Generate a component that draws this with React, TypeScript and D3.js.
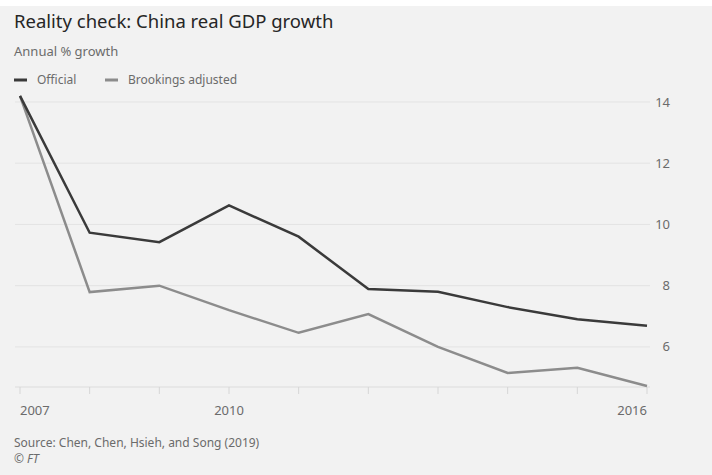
import React from "react";
import * as d3 from "d3";

const years = [2007, 2008, 2009, 2010, 2011, 2012, 2013, 2014, 2015, 2016];
const official = [14.2, 9.73, 9.42, 10.62, 9.6, 7.89, 7.8, 7.3, 6.9, 6.69];
const brookings = [14.2, 7.79, 8.0, 7.2, 6.46, 7.07, 6.0, 5.15, 5.32, 4.72];
const yTicks = [6, 8, 10, 12, 14];
const xLabels = [2007, 2010, 2016];

const W = 712;
const H = 475;
const FONT = "'Noto Sans', 'Open Sans', sans-serif";

export default function App() {
  const x = d3.scaleLinear().domain([2007, 2016]).range([20, 647]);
  const y = d3.scaleLinear().domain([4.69, 14]).range([387, 102]);
  const line = d3
    .line<number>()
    .x((_, i) => x(years[i]))
    .y((d) => y(d));

  const gridX0 = 15;
  const gridX1 = 650;

  return (
    <svg
      width={W}
      height={H}
      style={{ position: "absolute", left: 0, top: 0, display: "block" }}
      fontFamily={FONT}
    >
      <rect x={0} y={0} width={W} height={H} fill="#f2f2f2" />
      <rect x={0} y={0} width={W} height={6} fill="#ffffff" />

      <text x={14} y={28} fontSize={18.5} fill="#262626">
        Reality check: China real GDP growth
      </text>
      <text x={14} y={56} fontSize={13} fill="#6b6b6b">
        Annual % growth
      </text>

      {/* legend */}
      <line x1={14} x2={27} y1={80} y2={80} stroke="#3a3a3a" strokeWidth={3} />
      <text x={37} y={84} fontSize={12} fill="#6b6b6b">
        Official
      </text>
      <line x1={105} x2={118} y1={80} y2={80} stroke="#8c8c8c" strokeWidth={3} />
      <text x={128} y={84} fontSize={12} fill="#6b6b6b">
        Brookings adjusted
      </text>

      {/* grid */}
      {yTicks.map((t) => (
        <g key={t}>
          <line x1={gridX0} x2={gridX1} y1={y(t)} y2={y(t)} stroke="#e3e3e3" strokeWidth={1} />
          <text x={670} y={y(t) + 4.5} fontSize={13} fill="#6b6b6b" textAnchor="end">
            {t}
          </text>
        </g>
      ))}

      {/* x axis */}
      <line x1={gridX0} x2={gridX1} y1={y(4.69)} y2={y(4.69)} stroke="#dcdcdc" strokeWidth={1} />
      {years.map((yr) => (
        <line
          key={yr}
          x1={x(yr)}
          x2={x(yr)}
          y1={y(4.69)}
          y2={y(4.69) + 7}
          stroke="#d6d6d6"
          strokeWidth={1}
        />
      ))}
      {xLabels.map((yr, i) => (
        <text
          key={yr}
          x={x(yr)}
          y={415}
          fontSize={13}
          fill="#6b6b6b"
          textAnchor={i === 0 ? "start" : i === xLabels.length - 1 ? "end" : "middle"}
        >
          {yr}
        </text>
      ))}

      {/* lines */}
      <path d={line(brookings) || ""} fill="none" stroke="#8c8c8c" strokeWidth={2.5} strokeLinejoin="miter" />
      <path d={line(official) || ""} fill="none" stroke="#3a3a3a" strokeWidth={2.5} strokeLinejoin="miter" />

      <text x={14} y={447} fontSize={12} fill="#6b6b6b">
        Source: Chen, Chen, Hsieh, and Song (2019)
      </text>
      <text x={14} y={463} fontSize={12} fill="#6b6b6b" fontStyle="italic">
        © FT
      </text>
    </svg>
  );
}
